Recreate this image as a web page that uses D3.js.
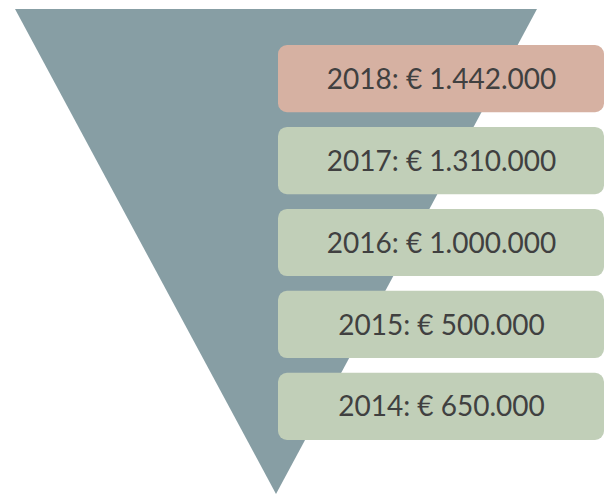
<!DOCTYPE html>
<html>
<head>
<meta charset="utf-8">
<script src="https://cdn.jsdelivr.net/npm/d3@7"></script>
<style>
  body { margin: 0; background: #fff; }
  svg { display: block; }
  .label { font-family: Lato, "Open Sans", sans-serif; fill: #404040; }
</style>
</head>
<body>
<div id="chart"></div>
<script>
"use strict";

//
//   DATA
//

var years = ["2018", "2017", "2016", "2015", "2014"];
var amounts = [1442000, 1310000, 1000000, 500000, 650000];
var highlight = ["2018"];

//
//   CONSTANTS
//

var WIDTH = 605;
var HEIGHT = 495;
var FUNNEL_COLOR = "#879ea4";
var BOX_COLOR = "#c1cfb8";
var HIGHLIGHT_COLOR = "#d6b1a2";
var FONT_SIZE = 28;

var svg = d3.select("#chart").append("svg")
    .attr("width", WIDTH)
    .attr("height", HEIGHT);

// euro format with dots as thousands separator
var locale = d3.formatLocale({ decimal: ",", thousands: ".", grouping: [3], currency: ["€ ", ""] });
var fmt = locale.format("$,.0f");

// Funnel triangle
var funnelX = d3.scaleLinear().domain([0, 1]).range([15, 537]);
var funnelY = d3.scaleLinear().domain([0, 1]).range([9, 494]);

var tri = [[0, 0], [1, 0], [0.5, 1]];
svg.append("path")
    .attr("d", d3.line()
        .x(function (d) { return funnelX(d[0]); })
        .y(function (d) { return funnelY(d[1]); })(tri) + "Z")
    .style("fill", FUNNEL_COLOR);

// Boxes
var boxY = d3.scaleBand().domain(years).range([45, 440]).paddingInner(0.18);
var boxX0 = 278;
var boxX1 = 605;

var rows = svg.selectAll("g.row").data(years).enter().append("g")
    .attr("class", "row")
    .attr("transform", function (d) { return "translate(" + boxX0 + "," + boxY(d) + ")"; });

rows.append("rect")
    .attr("width", boxX1 - boxX0 - 1)
    .attr("height", boxY.bandwidth())
    .attr("rx", 9)
    .style("fill", function (d) { return highlight.indexOf(d) >= 0 ? HIGHLIGHT_COLOR : BOX_COLOR; });

rows.append("text")
    .attr("class", "label")
    .attr("x", (boxX1 - boxX0) / 2)
    .attr("y", boxY.bandwidth() / 2)
    .attr("dy", "0.36em")
    .attr("text-anchor", "middle")
    .style("font-size", FONT_SIZE + "px")
    .text(function (d, i) { return d + ": " + fmt(amounts[i]); });
</script>
</body>
</html>
